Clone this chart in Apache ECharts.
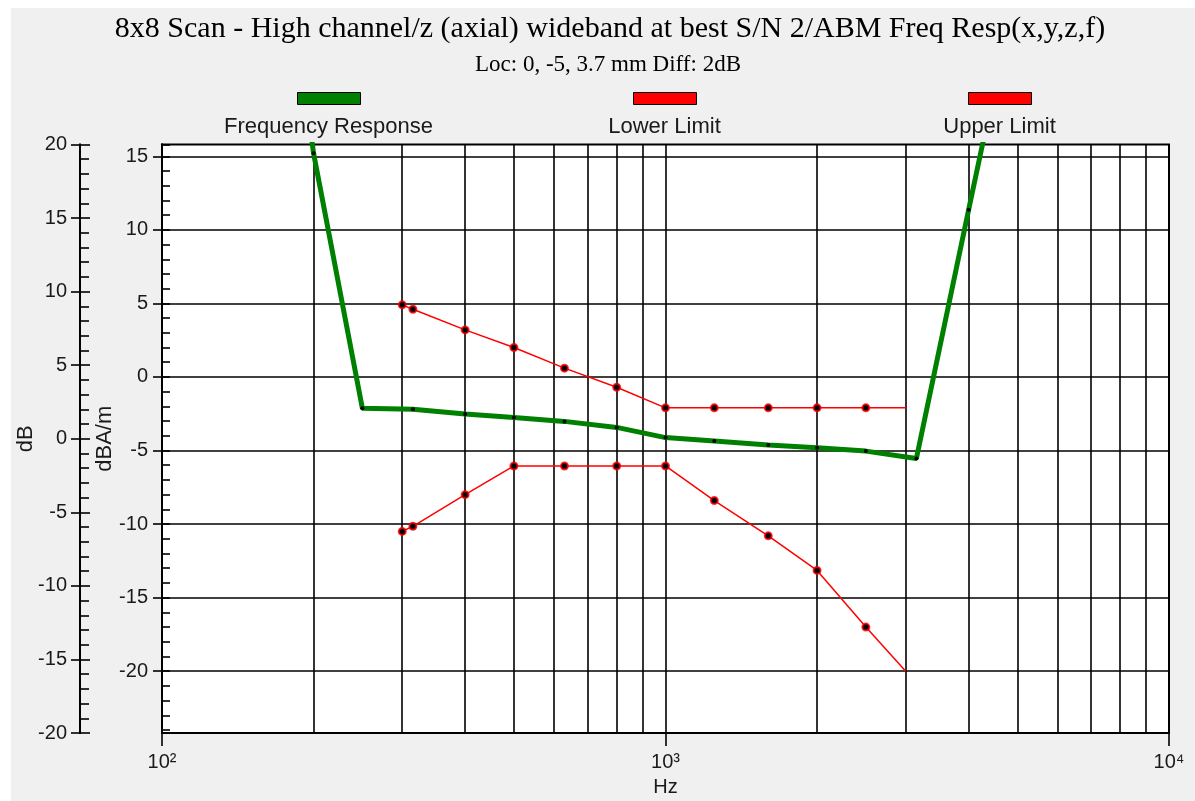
<!DOCTYPE html>
<html><head><meta charset="utf-8">
<script src="https://cdn.jsdelivr.net/npm/echarts@6/dist/echarts.min.js"></script>
<style>
html,body{margin:0;padding:0;background:#fff;width:1195px;height:801px;overflow:hidden}
#chart{position:absolute;left:11px;top:8px;width:1184px;height:793px;background:#f0f0f0}
</style></head><body><div id="chart"></div>
<script>
// ---- data ----
const titleText = '8x8 Scan - High channel/z (axial) wideband at best S/N 2/ABM Freq Resp(x,y,z,f)';
const subtitleText = 'Loc: 0, -5, 3.7 mm Diff: 2dB';
const seriesNames = ['Frequency Response', 'Lower Limit', 'Upper Limit'];
const responseHz = [160, 200, 250, 315, 400, 500, 630, 800, 1000, 1250, 1600, 2000, 2500, 3150, 4000, 5000];
const responseDb = [40, 15.2, -2.13, -2.2, -2.52, -2.75, -3.02, -3.43, -4.12, -4.36, -4.63, -4.81, -5.04, -5.54, 11.37, 27];
const limitHz = [300, 315, 400, 500, 630, 800, 1000, 1250, 1600, 2000, 2500, 3000];
const lowerLimitDb = [-10.5, -10.15, -8.0, -6.05, -6.05, -6.05, -6.05, -8.4, -10.8, -13.15, -17.0, -20.0];
const upperLimitDb = [4.9, 4.6, 3.2, 2.0, 0.6, -0.7, -2.1, -2.1, -2.1, -2.1, -2.1, -2.1];
const xTickHz = [100, 1000, 10000];
const xTickLabels = ['10²', '10³', '10⁴'];
const xMinorGridHz = [200, 300, 400, 500, 600, 700, 800, 900, 2000, 3000, 4000, 5000, 6000, 7000, 8000, 9000];
const yInnerTicks = [-20, -15, -10, -5, 0, 5, 10, 15];
const yInnerRange = [-24.2, 15.8];
const yOuterRange = [-20, 20];

// ---- styling / layout ----
const SANS = '"Liberation Sans", Arial, sans-serif';
const SERIF = '"Liberation Serif", "Times New Roman", serif';
const colors = ['#008000', '#ff0000', '#ff0000'];
const lineWidths = [5, 1.5, 1.5];
const legendCenters = [317.5, 653.5, 988.5];
const INK = '#000';
const TXT = '#1a1a1a';

const ctx = document.createElement('canvas').getContext('2d');
function textW(t, font) { ctx.font = font; return ctx.measureText(t).width; }

function pairs(xs, ys, dropLastSymbol) {
  return xs.map((x, i) => (dropLastSymbol && i === xs.length - 1)
    ? { value: [x, ys[i]], symbol: 'none' } : [x, ys[i]]);
}

const legends = [];
seriesNames.forEach((name, i) => {
  legends.push({
    data: [{ name, icon: 'rect', itemStyle: { color: colors[i], borderColor: '#000', borderWidth: 1 } }],
    left: legendCenters[i] - 31.5, top: 84, padding: 0,
    itemWidth: 63, itemHeight: 12, formatter: () => '', textStyle: { fontSize: 1 }
  });
  legends.push({
    data: [{ name, icon: 'none' }],
    left: legendCenters[i] - 5 - textW(name, '22px ' + SANS) / 2, top: 108, padding: 0,
    itemWidth: 0, itemHeight: 0,
    textStyle: { fontSize: 22, fontFamily: SANS, color: TXT }
  });
});

const axisLineStyle = { color: INK, width: 2 };
const tickLineStyle = { color: INK, width: 1.6 };
const yBase = { type: 'value', position: 'left', nameMoveOverlap: false,
  axisLine: { show: true, onZero: false, lineStyle: axisLineStyle }, splitLine: { show: false } };
const labelStyle = { fontSize: 20, fontFamily: SANS, color: TXT };

const option = {
  animation: false,
  backgroundColor: '#f0f0f0',
  title: [
    { text: titleText, left: 599 - textW(titleText, '30px ' + SERIF) / 2, top: 6, padding: 0,
      textStyle: { fontSize: 30, fontFamily: SERIF, fontWeight: 'normal', color: '#000' } },
    { text: subtitleText, left: 597 - textW(subtitleText, '23px ' + SERIF) / 2, top: 45, padding: 0,
      textStyle: { fontSize: 23, fontFamily: SERIF, fontWeight: 'normal', color: '#000' } }
  ],
  legend: legends,
  grid: { left: 151, right: 26, top: 136.5, bottom: 68, show: true, backgroundColor: '#fff',
          borderColor: INK, borderWidth: 2, containLabel: false, outerBoundsMode: 'none' },
  xAxis: {
    type: 'log', logBase: 10, min: xTickHz[0], max: xTickHz[xTickHz.length - 1],
    name: 'Hz', nameLocation: 'middle', nameGap: 44, nameMoveOverlap: false,
    nameTextStyle: { fontSize: 20, fontFamily: SANS, color: TXT },
    axisLine: { show: true, onZero: false, lineStyle: axisLineStyle },
    axisTick: { show: true, length: 13, lineStyle: tickLineStyle },
    axisLabel: { margin: 19, ...labelStyle, formatter: v => {
      const k = xTickHz.findIndex(t => Math.abs(t - v) / t < 1e-6); return k >= 0 ? xTickLabels[k] : ''; } },
    splitLine: { show: true, lineStyle: { color: INK, width: 1.6 } },
    minorTick: { show: false }, minorSplitLine: { show: false }
  },
  yAxis: [
    { ...yBase, min: yInnerRange[0], max: yInnerRange[1], splitNumber: 8,
      name: 'dBA/m', nameLocation: 'middle', nameRotate: 90, nameGap: 46,
      nameTextStyle: { fontSize: 22, fontFamily: SANS, color: TXT },
      axisTick: { show: true, length: 9, customValues: yInnerTicks, lineStyle: tickLineStyle },
      axisLabel: { margin: 14, customValues: yInnerTicks, ...labelStyle },
      splitLine: { show: true, lineStyle: { color: INK, width: 1.6 } } },
    { ...yBase, min: yInnerRange[0], max: yInnerRange[1], splitNumber: 8,
      axisLabel: { show: false }, axisTick: { show: true, inside: true, length: 8, lineStyle: tickLineStyle },
      minorTick: { show: true, splitNumber: 5, length: 8, lineStyle: tickLineStyle } },
    { ...yBase, min: yOuterRange[0], max: yOuterRange[1], interval: 5, offset: 82,
      name: 'dB', nameLocation: 'middle', nameRotate: 90, nameGap: 43,
      nameTextStyle: { fontSize: 22, fontFamily: SANS, color: TXT },
      axisTick: { show: true, length: 9, lineStyle: tickLineStyle },
      axisLabel: { margin: 13, ...labelStyle } },
    { ...yBase, min: yOuterRange[0], max: yOuterRange[1], interval: 5, offset: 82,
      axisLabel: { show: false }, axisTick: { show: true, inside: true, length: 10, lineStyle: tickLineStyle },
      minorTick: { show: true, splitNumber: 5, length: 9, lineStyle: tickLineStyle } }
  ],
  series: [
    { name: seriesNames[0], type: 'line', data: pairs(responseHz, responseDb, false),
      xAxisIndex: 0, yAxisIndex: 0, symbol: 'circle', symbolSize: 4, showSymbol: true, showAllSymbol: true,
      itemStyle: { color: '#000' }, lineStyle: { color: colors[0], width: lineWidths[0] }, z: 3, clip: true,
      emphasis: { disabled: true },
      markLine: { silent: true, z: 1, symbol: ['none', 'none'], label: { show: false }, animation: false,
        emphasis: { disabled: true },
        lineStyle: { type: 'solid', color: INK, width: 1.6 },
        data: xMinorGridHz.map(v => ({ xAxis: v })) } },
    { name: seriesNames[1], type: 'line', data: pairs(limitHz, lowerLimitDb, true),
      xAxisIndex: 0, yAxisIndex: 0, symbol: 'circle', symbolSize: 7, showSymbol: true, showAllSymbol: true,
      itemStyle: { color: '#000', borderColor: 'rgba(255,0,0,0.8)', borderWidth: 2 },
      lineStyle: { color: colors[1], width: lineWidths[1] }, z: 4, clip: true, emphasis: { disabled: true } },
    { name: seriesNames[2], type: 'line', data: pairs(limitHz, upperLimitDb, true),
      xAxisIndex: 0, yAxisIndex: 0, symbol: 'circle', symbolSize: 7, showSymbol: true, showAllSymbol: true,
      itemStyle: { color: '#000', borderColor: 'rgba(255,0,0,0.8)', borderWidth: 2 },
      lineStyle: { color: colors[2], width: lineWidths[2] }, z: 4, clip: true, emphasis: { disabled: true } }
  ]
};

const chart = echarts.init(document.getElementById('chart'), null, { renderer: 'canvas' });
chart.setOption(option);
</script>
</body></html>
